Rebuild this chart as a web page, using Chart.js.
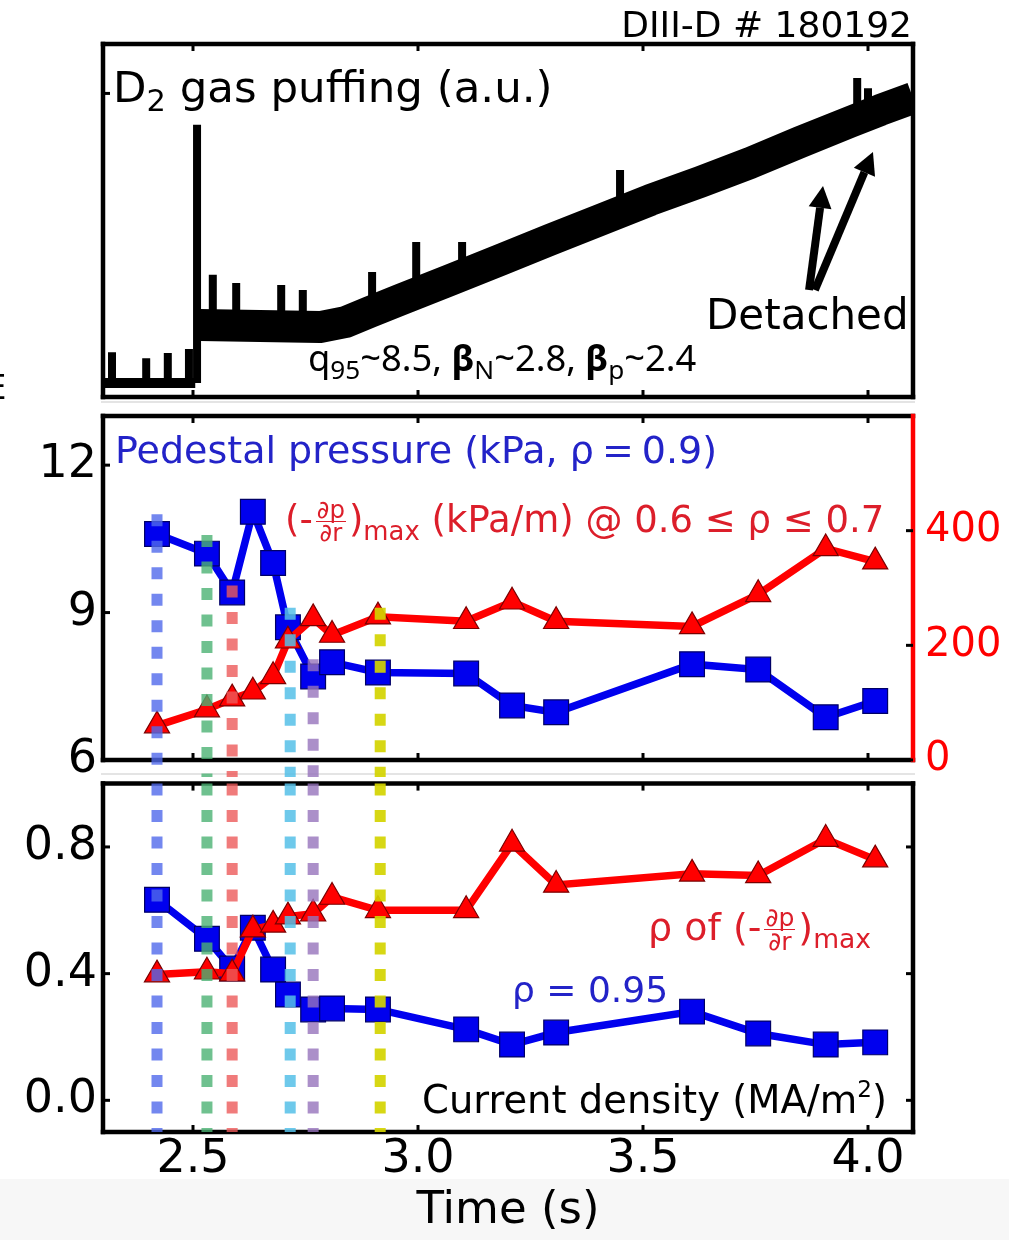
<!DOCTYPE html>
<html>
<head>
<meta charset="utf-8">
<script src="https://cdn.jsdelivr.net/npm/chart.js@4.4.1/dist/chart.umd.min.js"></script>
<style>
  html, body { margin:0; padding:0; background:#fff; }
  #page { position:relative; width:1009px; height:1240px; overflow:hidden; background:#fff; font-family:"DejaVu Sans", sans-serif; }
  canvas { position:absolute; left:0; }
  .txt { position:absolute; white-space:nowrap; line-height:1; }
  .blue { color:#2323c8; }
  .red { color:#dc1e2a; }
  .sub { font-size:0.7em; vertical-align:-0.3em; line-height:0; }
  .frac { display:inline-block; vertical-align:middle; font-size:0.66em; line-height:0.92; text-align:center; margin:0 3px; }
  .frac span { display:block; }
  .frac .num { border-bottom:1.6px solid currentColor; padding:0 1px; }
</style>
</head>
<body>
<div id="page">
  <div style="position:absolute;left:0;top:1179px;width:1009px;height:61px;background:#f7f7f7;"></div>
  <div style="position:absolute;left:101px;top:401px;width:814px;height:2px;background:#e4e4e4;"></div>
  <div style="position:absolute;left:101px;top:773px;width:814px;height:2px;background:#e4e4e4;"></div>

  <canvas id="gas" width="1009" height="404" style="top:0"></canvas>
  <canvas id="mid" width="1009" height="416" style="top:380px"></canvas>
  <canvas id="bot" width="1009" height="490" style="top:750px"></canvas>

  <div class="txt" style="right:97px;top:6.5px;font-size:36px;">DIII-D # 180192</div>
  <div class="txt" style="left:113px;top:66px;font-size:43.5px;">D<span class="sub" style="font-size:0.7em">2</span> gas puffing (a.u.)</div>
  <div class="txt" style="left:706px;top:293.5px;font-size:42px;">Detached</div>
  <div class="txt" style="left:308px;top:338.5px;font-size:36.3px;font-family:'Noto Sans';">q<span class="sub" style="font-size:0.72em">95</span>~8.5, <b>β</b><span class="sub" style="font-size:0.72em">N</span>~2.8, <b>β</b><span class="sub" style="font-size:0.72em">p</span>~2.4</div>
  <div class="txt" style="left:-15px;top:370px;font-size:34px;">E</div>

  <div class="txt blue" style="left:115px;top:431px;font-size:38px;">Pedestal pressure (kPa, ρ<span style="margin:0 8px">=</span>0.9)</div>
  <div class="txt red" style="left:285px;top:499px;font-size:37px;">(-<span class="frac"><span class="num">∂p</span><span>∂r</span></span>)<span class="sub">max</span> (kPa/m) @ 0.6 ≤ ρ ≤ 0.7</div>

  <div class="txt red" style="left:648px;top:906px;font-size:38px;">ρ of (-<span class="frac"><span class="num">∂p</span><span>∂r</span></span>)<span class="sub">max</span></div>
  <div class="txt blue" style="left:512px;top:971.5px;font-size:36px;">ρ = 0.95</div>
  <div class="txt" style="left:422px;top:1081px;font-size:38.5px;">Current density (MA/m<span style="font-size:0.6em;vertical-align:0.7em;line-height:0">2</span>)</div>
</div>

<script>
// measurement times (s), shared by the profile quantities
const times = [2.420, 2.531, 2.587, 2.633, 2.678, 2.711, 2.767, 2.809, 2.911, 3.107, 3.209, 3.307, 3.609, 3.756, 3.906, 4.016];
const pedPressure = [10.60, 10.20, 9.41, 11.05, 10.01, 8.70, 7.70, 7.99, 7.78, 7.76, 7.11, 6.97, 7.95, 7.84, 6.87, 7.20];
const gradMax = [60, 88, 107, 119, 146, 208, 247, 218, 250, 242, 276, 242, 233, 289, 369, 346];
const currentRho95 = [0.633, 0.510, 0.416, 0.545, 0.413, 0.334, 0.287, 0.290, 0.287, 0.224, 0.176, 0.214, 0.280, 0.211, 0.176, 0.183];
const rhoOfGradMax = [0.397, 0.406, 0.400, 0.539, 0.554, 0.580, 0.589, 0.642, 0.600, 0.600, 0.810, 0.680, 0.715, 0.710, 0.825, 0.760];

// selected profile times (dotted markers)
const profileTimes = [2.420, 2.531, 2.587, 2.716, 2.767, 2.916];
const profileTops = [11.0, 10.58, 9.55, 9.1, 8.05, 9.1];
const profileColors = ["rgba(80,105,235,0.8)", "rgba(75,178,115,0.8)", "rgba(236,90,90,0.8)",
                       "rgba(85,192,232,0.85)", "rgba(150,115,188,0.8)", "rgba(212,212,0,0.92)"];

// D2 gas puffing trace (a.u.)
const preTimes = [2.300, 2.505];
const preGas = [4.0, 4.0];
const bandTimes = [2.516, 2.649, 2.782, 2.838, 2.893, 2.960, 3.071, 3.182, 3.293, 3.404, 3.516, 3.627, 3.738, 3.849, 3.960, 4.027, 4.100];
const bandGas = [20.4, 20.1, 19.8, 21.2, 24.1, 27.5, 33.1, 38.8, 44.5, 50.1, 55.8, 60.9, 66.3, 72.2, 77.9, 81.3, 84.7];
const spikeTimes = [2.320, 2.396, 2.444, 2.491, 2.509, 2.544, 2.596, 2.696, 2.744, 2.898, 2.996, 3.098, 3.449, 3.976, 4.000];
const spikeBase = [4.0, 4.0, 4.0, 4.0, 4.0, 20.4, 20.3, 20.0, 20.0, 24.3, 29.0, 34.0, 52.5, 78.5, 79.5];
const spikeTop = [12.7, 11.0, 12.5, 13.6, 77.1, 34.6, 32.3, 31.7, 30.3, 35.4, 43.9, 43.9, 64.3, 90.4, 87.5];
const arrowFrom = [[3.869, 30.3], [3.882, 30.3]];
const arrowTo = [[3.900, 59.8], [4.011, 69.4]];

// axis ticks
const timeTicks = [2.5, 3.0, 3.5, 4.0];
const gasTicks = [86];
const pressureTicks = [6, 9, 12];
const gradTicks = [0, 200, 400];
const currentTicks = [0.0, 0.4, 0.8];

Chart.defaults.font.family = "DejaVu Sans";
Chart.defaults.color = "#000";

function pts(xs, ys){
    return xs.map((x,i) => ({x:x, y:ys[i]}));
}

function setTicks(list){
    return function(scale){ scale.ticks = list.map(v => ({value:v})); };
}

function fixWidth(w){
    return function(scale){ scale.width = w; };
}

const framePlugin = {
    id: "frame",
    afterDatasetsDraw(chart, args, opts){
        const ctx = chart.ctx;
        const a = chart.chartArea;
        const s = chart.scales;
        const seg = (x1,y1,x2,y2) => { ctx.beginPath(); ctx.moveTo(x1,y1); ctx.lineTo(x2,y2); ctx.stroke(); };
        ctx.save();
        ctx.lineWidth = 4.5;
        ctx.lineCap = "square";
        ctx.strokeStyle = "#000";
        seg(a.left,a.top,a.right,a.top);
        seg(a.left,a.bottom,a.right,a.bottom);
        seg(a.left,a.top,a.left,a.bottom);
        ctx.strokeStyle = opts.rightColor || "#000";
        seg(a.right,a.top,a.right,a.bottom);

        ctx.lineWidth = 3;
        ctx.lineCap = "butt";
        ctx.strokeStyle = "#000";
        const L = 7;
        timeTicks.forEach(v => {
            const x = s.x.getPixelForValue(v);
            seg(x,a.top,x,a.top+L);
            seg(x,a.bottom,x,a.bottom-L);
        });
        (opts.yTicks || []).forEach(v => {
            const y = s.y.getPixelForValue(v);
            seg(a.left,y,a.left+L,y);
            if(opts.mirror){ seg(a.right,y,a.right-L,y); }
        });
        (opts.y2Ticks || []).forEach(v => {
            const y = s.y2.getPixelForValue(v);
            seg(a.right,y,a.right-L,y);
        });
        ctx.restore();
    }
};

const profilePlugin = {
    id: "profiles",
    afterDatasetsDraw(chart, args, opts){
        const ctx = chart.ctx;
        const a = chart.chartArea;
        ctx.save();
        ctx.lineWidth = 11;
        ctx.setLineDash([12, 14.5]);
        profileTimes.forEach((t,i) => {
            const x = chart.scales.x.getPixelForValue(t);
            const y0 = opts.fromTop ? a.top : chart.scales.y.getPixelForValue(profileTops[i]);
            const y1 = a.bottom + (opts.extendBelow || 0);
            ctx.strokeStyle = profileColors[i];
            ctx.beginPath(); ctx.moveTo(x,y0); ctx.lineTo(x,y1); ctx.stroke();
        });
        ctx.restore();
    }
};

const arrowPlugin = {
    id: "arrows",
    afterDatasetsDraw(chart){
        const ctx = chart.ctx;
        const sx = chart.scales.x, sy = chart.scales.y;
        ctx.save();
        ctx.fillStyle = "#000";
        ctx.strokeStyle = "#000";
        arrowFrom.forEach((p,i) => {
            const x0 = sx.getPixelForValue(p[0]), y0 = sy.getPixelForValue(p[1]);
            const x1 = sx.getPixelForValue(arrowTo[i][0]), y1 = sy.getPixelForValue(arrowTo[i][1]);
            const ang = Math.atan2(y1-y0, x1-x0);
            const hl = 22, hw = 11.5;
            const bx = x1 - hl*Math.cos(ang), by = y1 - hl*Math.sin(ang);
            ctx.lineWidth = 8;
            ctx.lineCap = "butt";
            ctx.beginPath(); ctx.moveTo(x0,y0); ctx.lineTo(bx,by); ctx.stroke();
            ctx.beginPath();
            ctx.moveTo(x1,y1);
            ctx.lineTo(bx + hw*Math.sin(ang), by - hw*Math.cos(ang));
            ctx.lineTo(bx - hw*Math.sin(ang), by + hw*Math.cos(ang));
            ctx.closePath(); ctx.fill();
        });
        ctx.restore();
    }
};

// spikes as separate short segments
const spikeData = [];
spikeTimes.forEach((t,i) => {
    spikeData.push({x:t, y:spikeBase[i]}, {x:t, y:spikeTop[i]}, {x:t, y:null});
});

new Chart(document.getElementById("gas"), {
    type: "line",
    data: {
        datasets: [
            {data: pts(preTimes, preGas), borderColor:"#000", borderWidth:10, pointRadius:0},
            {data: pts(bandTimes, bandGas), borderColor:"#000", borderWidth:32, pointRadius:0, borderJoinStyle:"round"},
            {data: spikeData, borderColor:"#000", borderWidth:8, pointRadius:0, spanGaps:false}
        ]
    },
    options: {
        responsive:false, animation:false,
        layout:{padding:{left:103, right:96, top:44, bottom:7}},
        plugins:{legend:{display:false}, tooltip:{enabled:false}, frame:{yTicks:gasTicks}},
        scales:{
            x:{type:"linear", min:2.3, max:4.1, display:false},
            y:{min:0, max:100, display:false}
        }
    },
    plugins:[framePlugin, arrowPlugin]
});

const tickFont = {family:"DejaVu Sans", size:46};

new Chart(document.getElementById("mid"), {
    type: "line",
    data: {
        datasets: [
            {data: pts(times, gradMax), yAxisID:"y2", borderColor:"#f00", borderWidth:7.5,
             pointStyle:"triangle", pointRadius:14.5, pointBackgroundColor:"#f00", pointBorderColor:"#7a0000", pointBorderWidth:1.2, order:1},
            {data: pts(times, pedPressure), yAxisID:"y", borderColor:"#0000ee", borderWidth:7.5,
             pointStyle:"rect", pointRadius:17.5, pointBackgroundColor:"#0000ee", pointBorderColor:"#000066", pointBorderWidth:1.2, order:2}
        ]
    },
    options: {
        responsive:false, animation:false,
        layout:{padding:{left:0, right:0, top:31, bottom:31}},
        plugins:{legend:{display:false}, tooltip:{enabled:false},
                 frame:{yTicks:pressureTicks, y2Ticks:gradTicks, rightColor:"#f00"},
                 profiles:{extendBelow:17}},
        scales:{
            x:{type:"linear", min:2.3, max:4.1, display:false},
            y:{position:"left", min:6, max:13, afterBuildTicks:setTicks(pressureTicks), afterFit:fixWidth(103),
               grid:{display:false, drawTicks:false}, border:{display:false},
               ticks:{font:tickFont, color:"#000", padding:6}},
            y2:{position:"right", min:0, max:600, afterBuildTicks:setTicks(gradTicks), afterFit:fixWidth(96),
                grid:{display:false, drawTicks:false}, border:{display:false},
                ticks:{font:{family:"DejaVu Sans", size:40}, color:"#f00", padding:12}}
        }
    },
    plugins:[framePlugin, profilePlugin]
});

new Chart(document.getElementById("bot"), {
    type: "line",
    data: {
        datasets: [
            {data: pts(times, rhoOfGradMax), borderColor:"#f00", borderWidth:7.5,
             pointStyle:"triangle", pointRadius:14.5, pointBackgroundColor:"#f00", pointBorderColor:"#7a0000", pointBorderWidth:1.2, order:1},
            {data: pts(times, currentRho95), borderColor:"#0000ee", borderWidth:7.5,
             pointStyle:"rect", pointRadius:17.5, pointBackgroundColor:"#0000ee", pointBorderColor:"#000066", pointBorderWidth:1.2, order:2}
        ]
    },
    options: {
        responsive:false, animation:false,
        layout:{padding:{left:0, right:96, top:32, bottom:0}},
        plugins:{legend:{display:false}, tooltip:{enabled:false},
                 frame:{yTicks:currentTicks, mirror:true},
                 profiles:{fromTop:true}},
        scales:{
            x:{type:"linear", position:"bottom", min:2.3, max:4.1, afterBuildTicks:setTicks(timeTicks),
               afterFit:function(scale){ scale.height = 108; },
               grid:{display:false, drawTicks:false}, border:{display:false},
               ticks:{font:tickFont, color:"#000", padding:0, maxRotation:0, callback:v => v.toFixed(1)},
               title:{display:true, text:"Time (s)", font:{family:"DejaVu Sans", size:45}, color:"#000", padding:{top:0, bottom:2}}},
            y:{position:"left", min:-0.1, max:1.0, afterBuildTicks:setTicks(currentTicks), afterFit:fixWidth(103),
               grid:{display:false, drawTicks:false}, border:{display:false},
               ticks:{font:tickFont, color:"#000", padding:6, callback:v => v.toFixed(1)}}
        }
    },
    plugins:[framePlugin, profilePlugin]
});
</script>
</body>
</html>
